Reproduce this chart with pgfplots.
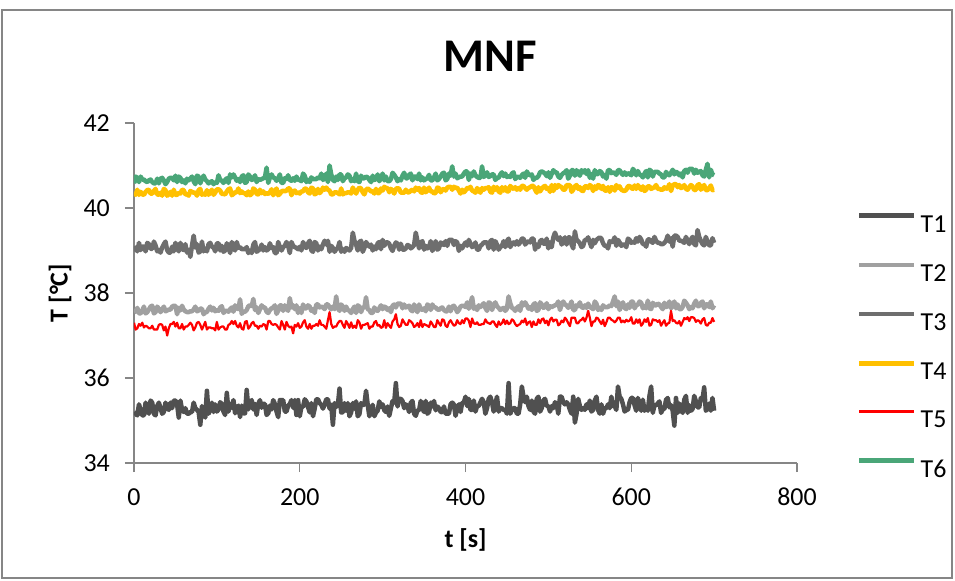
\documentclass[border=0pt]{standalone}
\usepackage{pgfplots}
\pgfplotsset{compat=1.18}
\usepackage{pgfplotstable}
\usepackage{fontspec}
\setmainfont{Carlito}
\definecolor{cT1}{RGB}{80,80,80}
\definecolor{cT2}{RGB}{160,160,160}
\definecolor{cT3}{RGB}{110,110,110}
\definecolor{cT4}{RGB}{255,192,0}
\definecolor{cT5}{RGB}{255,0,0}
\definecolor{cT6}{RGB}{74,166,120}
\definecolor{axisgray}{RGB}{134,134,134}
\pgfplotstableread{
t T1 T2 T3 T4 T5 T6
0 35.20 37.55 38.98 40.36 37.30 40.58
2 35.16 37.57 39.07 40.31 37.14 40.74
4 35.12 37.65 38.98 40.43 37.17 40.71
6 35.38 37.52 39.18 40.31 37.27 40.61
8 35.25 37.52 39.01 40.38 37.23 40.74
10 35.12 37.59 39.09 40.32 37.30 40.67
12 35.12 37.68 39.09 40.31 37.19 40.67
14 35.42 37.52 38.98 40.38 37.23 40.63
16 35.29 37.55 39.18 40.42 37.21 40.61
18 35.16 37.61 39.15 40.43 37.17 40.65
20 35.47 37.68 39.04 40.34 37.17 40.67
22 35.42 37.70 39.04 40.34 37.23 40.61
24 35.16 37.52 39.21 40.40 37.14 40.58
26 35.12 37.55 39.12 40.45 37.14 40.58
28 35.34 37.68 38.98 40.32 37.14 40.69
30 35.42 37.63 39.01 40.31 37.25 40.58
32 35.29 37.55 38.95 40.36 37.27 40.69
34 35.16 37.61 39.07 40.29 37.25 40.71
36 35.20 37.68 39.15 40.45 37.12 40.65
38 35.42 37.57 39.21 40.42 37.21 40.56
40 35.29 37.59 39.01 40.29 37.00 40.61
42 35.25 37.61 38.95 40.32 37.17 40.69
44 35.42 37.61 38.95 40.38 37.27 40.71
46 35.29 37.68 39.09 40.29 37.27 40.71
48 35.47 37.70 38.98 40.43 37.32 40.65
50 35.47 37.70 39.18 40.31 37.21 40.76
52 35.38 37.50 39.07 40.31 37.30 40.61
54 35.07 37.65 38.98 40.36 37.17 40.74
56 35.47 37.59 39.18 40.34 37.17 40.71
58 35.25 37.70 39.04 40.43 37.27 40.61
60 35.20 37.61 39.01 40.42 37.14 40.65
62 35.29 37.57 39.15 40.32 37.21 40.58
64 35.16 37.55 38.95 40.32 37.21 40.69
66 35.16 37.55 39.01 40.29 37.25 40.65
68 35.20 37.57 38.85 40.40 37.30 40.69
70 35.20 37.57 39.12 40.38 37.25 40.74
72 35.42 37.61 39.35 40.36 37.12 40.63
74 35.29 37.68 39.07 40.36 37.19 40.56
76 35.25 37.57 39.15 40.29 37.30 40.76
78 35.20 37.59 38.95 40.42 37.32 40.74
80 34.90 37.63 38.98 40.45 37.25 40.58
82 35.34 37.63 39.21 40.31 37.14 40.69
84 35.16 37.50 38.98 40.34 37.23 40.76
86 35.07 37.55 39.04 40.31 37.32 40.67
88 35.70 37.55 38.98 40.42 37.14 40.63
90 35.16 37.63 39.15 40.31 37.19 40.58
92 35.25 37.68 39.18 40.38 37.19 40.61
94 35.42 37.59 39.09 40.43 37.17 40.63
96 35.20 37.65 39.07 40.31 37.17 40.56
98 35.38 37.57 38.98 40.36 37.12 40.61
100 35.21 37.60 39.17 40.44 37.32 40.59
102 35.26 37.58 39.17 40.44 37.14 40.77
104 35.43 37.66 39.00 40.41 37.19 40.66
106 35.39 37.69 39.11 40.33 37.21 40.64
108 35.21 37.53 38.97 40.33 37.21 40.59
110 35.13 37.58 39.00 40.32 37.14 40.66
112 35.65 37.58 39.17 40.39 37.14 40.70
114 35.21 37.56 39.08 40.44 37.25 40.59
116 35.39 37.62 38.94 40.46 37.27 40.79
118 35.30 37.66 39.20 40.30 37.34 40.72
120 35.48 37.56 39.06 40.33 37.27 40.79
122 35.17 37.71 39.00 40.37 37.34 40.72
124 35.30 37.64 39.20 40.37 37.23 40.64
126 35.35 37.62 39.06 40.46 37.19 40.68
128 35.08 37.85 39.08 40.35 37.29 40.61
130 35.35 37.51 39.03 40.39 37.16 40.74
132 35.17 37.56 39.03 40.35 37.14 40.77
134 35.17 37.56 39.03 40.35 37.32 40.59
136 35.72 37.60 39.08 40.30 37.34 40.61
138 35.26 37.69 38.94 40.39 37.16 40.79
140 35.43 37.71 39.00 40.30 37.21 40.74
142 35.48 37.69 38.94 40.33 37.29 40.66
144 35.26 37.86 39.14 40.46 37.32 40.68
146 35.39 37.60 39.20 40.43 37.23 40.77
148 35.13 37.66 38.97 40.33 37.23 40.61
150 35.39 37.53 39.00 40.32 37.16 40.68
152 35.48 37.62 39.03 40.43 37.23 40.66
154 35.30 37.71 39.14 40.35 37.21 40.68
156 35.39 37.66 39.00 40.39 37.27 40.70
158 35.39 37.66 39.08 40.33 37.25 40.72
160 35.13 37.56 39.00 40.35 37.14 40.95
162 35.17 37.53 39.03 40.33 37.34 40.59
164 35.35 37.60 39.17 40.37 37.34 40.72
166 35.26 37.64 39.06 40.44 37.27 40.79
168 35.48 37.66 39.08 40.30 37.25 40.72
170 35.39 37.71 38.94 40.39 37.27 40.70
172 35.21 37.51 38.94 40.46 37.25 40.64
174 35.08 37.58 39.20 40.30 37.19 40.70
176 35.48 37.71 39.08 40.33 37.14 40.79
178 35.48 37.71 39.00 40.39 37.34 40.59
180 35.48 37.58 39.08 40.41 37.25 40.59
182 35.21 37.71 39.11 40.39 37.14 40.70
184 35.21 37.64 39.20 40.41 37.32 40.68
186 35.35 37.58 39.11 40.46 37.23 40.77
188 35.39 37.88 38.94 40.46 37.19 40.66
190 35.48 37.66 39.20 40.30 37.21 40.64
192 35.30 37.71 39.11 40.39 37.05 40.70
194 35.48 37.62 39.08 40.41 37.25 40.64
196 35.13 37.71 39.06 40.35 37.21 40.74
198 35.48 37.53 39.03 40.37 37.29 40.66
200 35.10 37.64 39.09 40.34 37.18 40.66
202 35.32 37.53 39.00 40.39 37.21 40.63
204 35.32 37.73 39.20 40.39 37.31 40.81
206 35.50 37.64 39.09 40.46 37.36 40.76
208 35.45 37.64 39.06 40.45 37.21 40.61
210 35.32 37.71 39.17 40.37 37.16 40.66
212 35.19 37.68 39.23 40.34 37.27 40.61
214 35.41 37.58 39.00 40.48 37.16 40.72
216 35.10 37.62 38.97 40.46 37.23 40.68
218 35.28 37.53 39.20 40.32 37.23 40.68
220 35.50 37.73 39.17 40.34 37.27 40.68
222 35.50 37.73 39.00 40.45 37.23 40.72
224 35.41 37.66 39.09 40.35 37.36 40.70
226 35.37 37.68 39.03 40.39 37.25 40.81
228 35.28 37.66 39.14 40.48 37.25 40.66
230 35.37 37.62 39.23 40.43 37.21 40.70
232 35.50 37.73 39.14 40.48 37.16 40.81
234 35.50 37.73 39.23 40.43 37.36 40.61
236 35.28 37.66 38.97 40.41 37.55 41.00
238 35.37 37.62 39.11 40.32 37.27 40.79
240 34.90 37.68 39.06 40.32 37.18 40.66
242 35.41 37.62 38.97 40.37 37.21 40.63
244 35.32 37.92 39.03 40.37 37.21 40.74
246 35.37 37.64 39.06 40.35 37.29 40.66
248 35.75 37.58 39.20 40.32 37.34 40.79
250 35.19 37.73 38.97 40.46 37.34 40.79
252 35.19 37.68 39.03 40.32 37.25 40.63
254 35.41 37.58 38.97 40.35 37.18 40.70
256 35.23 37.68 39.06 40.35 37.34 40.72
258 35.41 37.60 39.03 40.37 37.27 40.79
260 35.10 37.58 39.00 40.37 37.18 40.76
262 35.19 37.53 39.06 40.34 37.31 40.63
264 35.41 37.62 39.42 40.48 37.18 40.68
266 35.28 37.68 39.23 40.41 37.23 40.63
268 35.45 37.53 39.14 40.34 37.18 40.81
270 35.10 37.71 39.00 40.43 37.36 40.63
272 35.15 37.68 39.20 40.48 37.31 40.61
274 35.41 37.55 39.23 40.46 37.16 40.76
276 35.37 37.66 38.97 40.37 37.25 40.70
278 35.37 37.66 39.06 40.32 37.25 40.70
280 35.70 37.90 39.20 40.43 37.27 40.74
282 35.37 37.62 39.14 40.46 37.29 40.72
284 35.10 37.60 39.09 40.43 37.16 40.66
286 35.23 37.53 39.14 40.39 37.21 40.61
288 35.37 37.53 39.00 40.39 37.21 40.76
290 35.10 37.66 39.09 40.34 37.31 40.66
292 35.19 37.60 39.03 40.45 37.34 40.68
294 35.23 37.58 39.17 40.35 37.23 40.79
296 35.45 37.64 39.20 40.35 37.25 40.63
298 35.32 37.71 39.03 40.46 37.18 40.70
300 35.38 37.62 39.25 40.41 37.20 40.81
302 35.24 37.68 39.11 40.50 37.36 40.65
304 35.20 37.66 39.19 40.47 37.18 40.74
306 35.33 37.60 39.19 40.47 37.29 40.63
308 35.11 37.64 39.16 40.37 37.23 40.63
310 35.29 37.55 39.05 40.45 37.18 40.68
312 35.46 37.70 38.99 40.41 37.33 40.83
314 35.42 37.73 39.11 40.34 37.38 40.78
316 35.88 37.66 39.19 40.45 37.50 40.72
318 35.33 37.75 39.16 40.47 37.27 40.63
320 35.51 37.75 39.02 40.45 37.20 40.68
322 35.51 37.75 39.16 40.36 37.23 40.65
324 35.46 37.64 39.02 40.36 37.38 40.76
326 35.29 37.73 39.02 40.36 37.31 40.83
328 35.38 37.66 39.05 40.43 37.25 40.70
330 35.33 37.68 39.13 40.37 37.25 40.70
332 35.20 37.70 39.11 40.37 37.36 40.78
334 35.42 37.60 39.05 40.41 37.33 40.81
336 35.46 37.57 39.08 40.43 37.29 40.65
338 35.16 37.73 39.13 40.39 37.20 40.74
340 35.11 37.62 39.42 40.48 37.23 40.74
342 35.24 37.55 39.22 40.43 37.29 40.68
344 35.24 37.73 39.05 40.47 37.20 40.81
346 35.46 37.62 39.19 40.37 37.36 40.65
348 35.29 37.60 39.22 40.36 37.20 40.72
350 35.20 37.64 39.02 40.48 37.27 40.65
352 35.46 37.57 39.11 40.37 37.25 40.68
354 35.16 37.73 39.05 40.41 37.23 40.70
356 35.20 37.70 39.08 40.48 37.20 40.78
358 35.42 37.60 39.22 40.39 37.33 40.65
360 35.33 37.73 38.99 40.39 37.27 40.65
362 35.46 37.66 39.08 40.34 37.20 40.72
364 35.24 37.66 39.22 40.36 37.20 40.81
366 35.33 37.62 39.02 40.48 37.36 40.65
368 35.29 37.60 39.05 40.47 37.29 40.68
370 35.20 37.64 39.19 40.37 37.23 40.74
372 35.20 37.66 39.16 40.43 37.38 40.81
374 35.33 37.60 39.13 40.45 37.36 40.83
376 35.16 37.57 39.22 40.41 37.23 40.65
378 35.16 37.57 39.11 40.48 37.20 40.68
380 35.16 37.68 39.25 40.50 37.31 40.81
382 35.38 37.57 39.25 40.50 37.36 40.76
384 35.42 37.68 39.25 40.43 37.29 40.98
386 35.38 37.70 39.13 40.50 37.23 40.74
388 35.11 37.64 39.22 40.47 37.25 40.81
390 35.29 37.55 39.19 40.48 37.36 40.70
392 35.38 37.60 38.99 40.41 37.29 40.72
394 35.20 37.68 39.11 40.34 37.27 40.74
396 35.42 37.70 39.05 40.43 37.36 40.74
398 35.42 37.70 39.13 40.37 37.29 40.81
400 35.56 37.67 39.19 40.41 37.40 40.86
402 35.34 37.78 39.11 40.47 37.40 40.86
404 35.51 37.63 39.25 40.45 37.35 40.66
406 35.25 37.76 39.16 40.50 37.20 40.81
408 35.25 37.90 39.08 40.41 37.40 40.75
410 35.47 37.63 39.11 40.39 37.29 40.86
412 35.21 37.67 39.19 40.36 37.27 40.77
414 35.34 37.60 39.02 40.47 37.31 40.73
416 35.34 37.71 39.02 40.41 37.25 40.71
418 35.43 37.67 39.11 40.36 37.25 40.71
420 35.51 37.71 39.14 40.47 37.27 40.98
422 35.43 37.76 39.19 40.43 37.27 40.73
424 35.16 37.65 39.19 40.47 37.38 40.77
426 35.29 37.58 39.19 40.47 37.31 40.84
428 35.51 37.78 39.05 40.49 37.29 40.73
430 35.56 37.76 39.22 40.38 37.27 40.75
432 35.43 37.60 39.25 40.36 37.33 40.79
434 35.21 37.71 39.02 40.50 37.33 40.79
436 35.38 37.78 39.22 40.43 37.25 40.66
438 35.56 37.69 39.14 40.49 37.20 40.71
440 35.21 37.65 39.02 40.39 37.33 40.71
442 35.29 37.60 39.08 40.36 37.25 40.79
444 35.29 37.63 39.11 40.49 37.29 40.84
446 35.25 37.65 39.22 40.41 37.38 40.75
448 35.25 37.58 39.08 40.49 37.27 40.81
450 35.16 37.63 39.22 40.39 37.35 40.73
452 35.88 37.92 39.28 40.39 37.27 40.75
454 35.16 37.76 39.08 40.52 37.29 40.73
456 35.25 37.65 39.16 40.47 37.38 40.81
458 35.29 37.63 39.19 40.45 37.35 40.84
460 35.29 37.58 39.14 40.49 37.27 40.68
462 35.16 37.65 39.22 40.43 37.22 40.73
464 35.16 37.69 39.14 40.47 37.25 40.73
466 35.38 37.58 39.19 40.43 37.27 40.71
468 35.80 37.78 39.28 40.52 37.35 40.77
470 35.56 37.71 39.28 40.52 37.31 40.81
472 35.43 37.78 39.14 40.47 37.40 40.71
474 35.56 37.71 39.19 40.43 37.25 40.86
476 35.34 37.63 39.22 40.47 37.31 40.79
478 35.25 37.67 39.19 40.49 37.33 40.77
480 35.47 37.60 39.28 40.52 37.20 40.79
482 35.21 37.73 39.28 40.52 37.33 40.66
484 35.16 37.76 39.02 40.43 37.25 40.71
486 35.51 37.58 39.14 40.36 37.25 40.71
488 35.56 37.60 39.08 40.49 37.38 40.75
490 35.21 37.78 39.22 40.39 37.29 40.84
492 35.29 37.73 39.25 40.45 37.38 40.86
494 35.47 37.65 39.16 40.50 37.40 40.84
496 35.51 37.67 39.16 40.52 37.29 40.81
498 35.34 37.76 39.28 40.45 37.35 40.75
500 35.34 37.62 39.05 40.47 37.24 40.84
502 35.21 37.69 39.19 40.38 37.37 40.71
504 35.34 37.67 39.08 40.54 37.42 40.80
506 35.29 37.69 39.31 40.40 37.33 40.89
508 35.43 37.71 39.42 40.54 37.37 40.84
510 35.38 37.73 39.31 40.47 37.37 40.84
512 35.16 37.80 39.25 40.54 37.24 40.74
514 35.56 37.60 39.31 40.51 37.27 40.71
516 35.56 37.73 39.14 40.49 37.35 40.78
518 35.43 37.80 39.22 40.43 37.31 40.82
520 35.38 37.73 39.31 40.43 37.42 40.84
522 35.43 37.71 39.14 40.54 37.37 40.89
524 35.38 37.65 39.31 40.54 37.29 40.69
526 35.25 37.71 39.31 40.54 37.22 40.76
528 35.16 37.80 39.14 40.38 37.42 40.89
530 35.56 37.60 39.05 40.43 37.42 40.89
532 34.95 37.60 39.45 40.51 37.42 40.76
534 35.16 37.71 39.25 40.54 37.29 40.89
536 35.51 37.69 39.22 40.45 37.29 40.82
538 35.34 37.78 39.17 40.49 37.35 40.76
540 35.25 37.67 39.08 40.41 37.37 40.89
542 35.29 37.65 39.11 40.40 37.42 40.84
544 35.25 37.71 39.25 40.51 37.33 40.89
546 35.38 37.65 39.25 40.51 37.42 40.80
548 35.29 37.75 39.31 40.47 37.58 40.89
550 35.47 37.67 39.19 40.54 37.42 40.71
552 35.21 37.65 39.08 40.51 37.22 40.80
554 35.25 37.62 39.25 40.40 37.33 40.69
556 35.47 37.80 39.17 40.51 37.33 40.89
558 35.56 37.75 39.25 40.45 37.42 40.80
560 35.25 37.60 39.28 40.54 37.40 40.80
562 35.16 37.65 39.31 40.52 37.33 40.87
564 35.38 37.60 39.28 40.45 37.27 40.84
566 35.16 37.71 39.17 40.52 37.37 40.74
568 35.29 37.67 39.11 40.41 37.22 40.78
570 35.29 37.67 39.11 40.41 37.31 40.69
572 35.38 37.67 39.05 40.49 37.42 40.89
574 35.29 37.71 39.22 40.38 37.42 40.89
576 35.56 37.69 39.19 40.49 37.37 40.82
578 35.34 37.80 39.22 40.47 37.35 40.84
580 35.34 37.92 39.31 40.41 37.31 40.82
582 35.25 37.69 39.11 40.54 37.35 40.78
584 35.80 37.80 39.25 40.47 37.42 40.89
586 35.56 37.60 39.19 40.51 37.42 40.89
588 35.51 37.71 39.11 40.43 37.31 40.82
590 35.38 37.78 39.14 40.41 37.35 40.78
592 35.21 37.65 39.14 40.40 37.31 40.84
594 35.25 37.62 39.08 40.43 37.37 40.78
596 35.25 37.73 39.28 40.51 37.33 40.82
598 35.43 37.65 39.25 40.52 37.35 40.80
600 35.53 37.80 39.18 40.47 37.43 40.77
602 35.53 37.80 39.21 40.45 37.28 40.92
604 35.36 37.64 39.18 40.53 37.28 40.87
606 35.23 37.71 39.29 40.45 37.38 40.77
608 35.53 37.73 39.21 40.54 37.30 40.87
610 35.40 37.80 39.32 40.47 37.38 40.79
612 35.23 37.77 39.26 40.43 37.23 40.77
614 35.49 37.64 39.15 40.51 37.28 40.72
616 35.23 37.69 39.15 40.40 37.38 40.81
618 35.31 37.64 39.09 40.43 37.32 40.87
620 35.23 37.82 39.26 40.51 37.41 40.72
622 35.58 37.64 39.26 40.51 37.23 40.90
624 35.80 37.62 39.21 40.45 37.25 40.87
626 35.18 37.77 39.18 40.47 37.38 40.74
628 35.36 37.71 39.32 40.49 37.36 40.85
630 35.36 37.71 39.23 40.54 37.36 40.85
632 35.40 37.75 39.18 40.45 37.32 40.85
634 35.45 37.73 39.18 40.45 37.36 40.81
636 35.18 37.67 39.15 40.43 37.23 40.79
638 35.27 37.62 39.15 40.43 37.30 40.72
640 35.27 37.77 39.18 40.49 37.36 40.72
642 35.49 37.67 39.23 40.45 37.23 40.85
644 35.53 37.69 39.35 40.47 37.28 40.79
646 35.31 37.80 39.21 40.56 37.30 40.77
648 35.36 37.64 39.29 40.40 37.58 40.83
650 35.23 37.71 39.09 40.53 37.34 40.90
652 34.88 37.80 39.35 40.56 37.36 40.79
654 35.53 37.64 39.35 40.56 37.30 40.85
656 35.18 37.73 39.32 40.49 37.28 40.83
658 35.40 37.62 39.23 40.54 37.34 40.77
660 35.27 37.62 39.23 40.47 37.23 40.81
662 35.18 37.67 39.21 40.49 37.32 40.72
664 35.49 37.82 39.18 40.54 37.41 40.87
666 35.58 37.77 39.32 40.45 37.38 40.90
668 35.18 37.71 39.23 40.43 37.43 40.83
670 35.36 37.62 39.15 40.49 37.34 40.92
672 35.23 37.67 39.26 40.54 37.43 40.92
674 35.27 37.64 39.32 40.51 37.43 40.92
676 35.58 37.75 39.15 40.42 37.41 40.81
678 35.45 37.82 39.12 40.43 37.32 40.90
680 35.31 37.69 39.48 40.54 37.36 40.83
682 35.31 37.69 39.32 40.56 37.34 40.85
684 35.53 37.77 39.23 40.43 37.28 40.87
686 35.49 37.80 39.15 40.49 37.38 40.77
688 35.78 37.64 39.12 40.54 37.41 40.74
690 35.23 37.73 39.32 40.42 37.25 40.90
692 35.27 37.73 39.21 40.42 37.23 41.04
694 35.40 37.67 39.12 40.47 37.30 40.72
696 35.23 37.80 39.12 40.53 37.30 40.90
698 35.53 37.64 39.29 40.42 37.41 40.79
700 35.23 37.71 39.18 40.43 37.32 40.77
}\datatable
\begin{document}
\begin{tikzpicture}
\path (-134bp,-118bp) rectangle (821bp,463bp);
\draw[axisgray, line width=1.5bp] (-132bp,-115bp) rectangle (818bp,453bp);
\begin{axis}[
  at={(0,0)}, anchor=south west,
  scale only axis, width=663bp, height=340bp,
  xmin=0, xmax=800, ymin=34, ymax=42,
  xtick={0,200,400,600,800}, ytick={34,36,38,40,42},
  axis x line*=bottom, axis y line*=left,
  axis line style={draw=axisgray, line width=1.3bp},
  tick align=outside, major tick length=9bp,
  tick style={draw=axisgray, line width=1.3bp},
  /pgf/number format/assume math mode=true,
  ticklabel style={font=\fontsize{26}{26}\selectfont},
  xticklabel style={inner sep=0pt, anchor=north, yshift=-16bp},
  yticklabel style={inner sep=0pt, anchor=east, xshift=-15bp},
  title={MNF},
  title style={at={(axis description cs:0.537,1.179)}, anchor=center, font=\fontsize{47}{47}\selectfont\bfseries},
  xlabel={t [s]},
  ylabel={T [°C]},
  every axis x label/.style={at={(axis description cs:0.5,-0.2265)}, anchor=center, font=\fontsize{26}{26}\selectfont\bfseries},
  every axis y label/.style={at={(axis description cs:-0.1116,0.5)}, anchor=center, rotate=90, font=\fontsize{26}{26}\selectfont\bfseries},
  legend image code/.code={\draw[#1] (0bp,8bp) -- (55bp,8bp);},
  legend cell align=left,
  legend style={draw=none, fill=none, at={(axis description cs:1.0905,0.735)}, anchor=north west, inner sep=0pt, row sep=30.5bp, column sep=4bp, font=\fontsize{26}{26}\selectfont, nodes={inner sep=0pt, text height=17bp, text depth=0pt}},
  line join=round,
]
\addplot[cT1, line width=4.5bp] table[x=t, y=T1] {\datatable};
\addlegendentry{T1}
\addplot[cT2, line width=4.5bp] table[x=t, y=T2] {\datatable};
\addlegendentry{T2}
\addplot[cT3, line width=4.5bp] table[x=t, y=T3] {\datatable};
\addlegendentry{T3}
\addplot[cT4, line width=4.5bp] table[x=t, y=T4] {\datatable};
\addlegendentry{T4}
\addplot[cT5, line width=2.2bp] table[x=t, y=T5] {\datatable};
\addlegendentry{T5}
\addplot[cT6, line width=4.5bp] table[x=t, y=T6] {\datatable};
\addlegendentry{T6}
\end{axis}
\end{tikzpicture}
\end{document}
